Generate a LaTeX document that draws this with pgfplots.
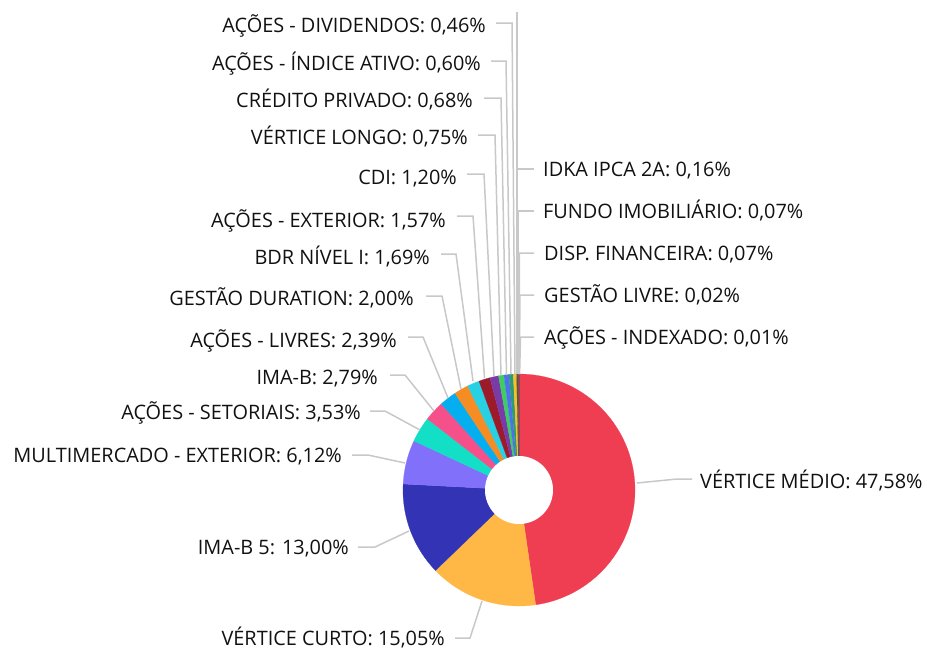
\documentclass[border=0pt]{standalone}
\usepackage{fontspec}
\setmainfont{Open Sans}
\usepackage{pgfplots}
\usepackage{pgfplotstable}
\pgfplotsset{compat=1.18}
\definecolor{c1}{HTML}{EF3D52}
\definecolor{c2}{HTML}{FFB845}
\definecolor{c3}{HTML}{3333B5}
\definecolor{c4}{HTML}{8070FA}
\definecolor{c5}{HTML}{12DFC5}
\definecolor{c6}{HTML}{F5508A}
\definecolor{c7}{HTML}{05AEEF}
\definecolor{c8}{HTML}{F68C24}
\definecolor{c9}{HTML}{27D0E3}
\definecolor{c10}{HTML}{9B1B2A}
\definecolor{c11}{HTML}{7A3AA8}
\definecolor{c12}{HTML}{3DCE62}
\definecolor{c13}{HTML}{5070F0}
\definecolor{c14}{HTML}{2E9A78}
\definecolor{c15}{HTML}{F4C12A}
\definecolor{c16}{HTML}{6E5030}
\definecolor{c17}{HTML}{555555}
\definecolor{c18}{HTML}{888888}
\definecolor{c19}{HTML}{444444}
\definecolor{c20}{HTML}{333333}
\definecolor{txt}{HTML}{111111}
\definecolor{lead}{HTML}{C8C8C8}
\pgfplotstableread{
val color
47.58 c1
15.05 c2
13.00 c3
6.12 c4
3.53 c5
2.79 c6
2.39 c7
2.00 c8
1.69 c9
1.57 c10
1.20 c11
0.75 c12
0.68 c13
0.60 c14
0.46 c15
0.16 c16
0.07 c17
0.07 c18
0.02 c19
0.01 c20
}\slicetable
\begin{document}
\begin{tikzpicture}[font=\fontsize{19.9}{24}\selectfont]
\useasboundingbox (0,0) rectangle (927pt,649pt);
\begin{axis}[width=927pt,height=649pt,scale only axis,
  xmin=0,xmax=927,ymin=0,ymax=649,y dir=reverse,hide axis,clip=false]
\pgfplotstablegetrowsof{\slicetable}
\pgfmathtruncatemacro\nrows{\pgfplotsretval-1}
\xdef\cum{0}
\xdef\total{0}
\pgfplotsforeachungrouped \i in {0,...,\nrows}{%
  \pgfplotstablegetelem{\i}{val}\of\slicetable
  \pgfmathsetmacro\tmpsum{\total+\pgfplotsretval}%
  \xdef\total{\tmpsum}%
}
\pgfplotsforeachungrouped \i in {0,...,\nrows}{%
  \pgfplotstablegetelem{\i}{val}\of\slicetable \let\sv\pgfplotsretval
  \pgfplotstablegetelem{\i}{color}\of\slicetable \let\sc\pgfplotsretval
  \pgfmathsetmacro\angA{\cum/\total*360}%
  \pgfmathsetmacro\angB{(\cum+\sv)/\total*360}%
  \pgfmathtruncatemacro\ns{max(4,\sv*3)}%
  \edef\doplot{\noexpand\addplot[fill=\sc,draw=\sc,line width=0.2pt,domain=\angA:\angB,samples=\ns,variable=\noexpand\t] ({519+116*sin(\noexpand\t)},{490-116*cos(\noexpand\t)}) -- (axis cs:519,490) -- cycle;}%
  \doplot
  \pgfmathsetmacro\tmpc{\cum+\sv}%
  \xdef\cum{\tmpc}%
}
\addplot[fill=white,draw=none,domain=0:360,samples=120,variable=\t] ({519+34*sin(t)},{490-34*cos(t)}) -- cycle;

% leader lines
\begin{scope}[lead,line width=1.5pt]
\draw (axis cs:637,483) -- (axis cs:677,479) -- (axis cs:692,479);
\draw (axis cs:482,601) -- (axis cs:470,638) -- (axis cs:455,638);
\draw (axis cs:409,531) -- (axis cs:375,547) -- (axis cs:358,547);
\draw (axis cs:405,463) -- (axis cs:368,455) -- (axis cs:352,455);
\draw (axis cs:420,430) -- (axis cs:385,411) -- (axis cs:370,411);
\draw (axis cs:434,411) -- (axis cs:405,375) -- (axis cs:390,375);
\draw (axis cs:448,398) -- (axis cs:423,337) -- (axis cs:408,337);
\draw (axis cs:461,389) -- (axis cs:442,296) -- (axis cs:426,296);
\draw (axis cs:473,381) -- (axis cs:456,254) -- (axis cs:441,254);
\draw (axis cs:484.5,378) -- (axis cs:473,216) -- (axis cs:457,216);
\draw (axis cs:494,376) -- (axis cs:484,174) -- (axis cs:467,174);
\draw (axis cs:501,375) -- (axis cs:495,135) -- (axis cs:478,135);
\draw (axis cs:506.5,375) -- (axis cs:501,98) -- (axis cs:484,98);
\draw (axis cs:511,374) -- (axis cs:506,61) -- (axis cs:491,61);
\draw (axis cs:515,374) -- (axis cs:512,23) -- (axis cs:496,23);
\draw (axis cs:517,374) -- (axis cs:517,12);
\draw (axis cs:517.5,374) -- (axis cs:517.5,169) -- (axis cs:534,169);
\draw (axis cs:518.2,374) -- (axis cs:518.2,211) -- (axis cs:534,211);
\draw (axis cs:518.8,374) -- (axis cs:519.5,253) -- (axis cs:534,253);
\draw (axis cs:519.2,374) -- (axis cs:520,295) -- (axis cs:534,295);
\draw (axis cs:519.6,374) -- (axis cs:520.5,337) -- (axis cs:534,337);
\end{scope}

% labels
\begin{scope}[every node/.style={inner sep=0pt,text=txt}]
\node[anchor=base west] at (axis cs:700,488) {VÉRTICE MÉDIO: 47,58\%};
\node[anchor=base east] at (axis cs:445,645) {VÉRTICE CURTO: 15,05\%};
\node[anchor=base east] at (axis cs:349,554) {IMA-B 5: 13,00\%};
\node[anchor=base east] at (axis cs:342,462) {MULTIMERCADO - EXTERIOR: 6,12\%};
\node[anchor=base east] at (axis cs:361,419) {AÇÕES - SETORIAIS: 3,53\%};
\node[anchor=base east] at (axis cs:378,384) {IMA-B: 2,79\%};
\node[anchor=base east] at (axis cs:397,347) {AÇÕES - LIVRES: 2,39\%};
\node[anchor=base east] at (axis cs:414,305) {GESTÃO DURATION: 2,00\%};
\node[anchor=base east] at (axis cs:430,264) {BDR NÍVEL I: 1,69\%};
\node[anchor=base east] at (axis cs:446,227) {AÇÕES - EXTERIOR: 1,57\%};
\node[anchor=base east] at (axis cs:457,184) {CDI: 1,20\%};
\node[anchor=base east] at (axis cs:468,144) {VÉRTICE LONGO: 0,75\%};
\node[anchor=base east] at (axis cs:473,107) {CRÉDITO PRIVADO: 0,68\%};
\node[anchor=base east] at (axis cs:481,70) {AÇÕES - ÍNDICE ATIVO: 0,60\%};
\node[anchor=base east] at (axis cs:486,32) {AÇÕES - DIVIDENDOS: 0,46\%};
\node[anchor=base west] at (axis cs:543,176) {IDKA IPCA 2A: 0,16\%};
\node[anchor=base west] at (axis cs:543,218) {FUNDO IMOBILIÁRIO: 0,07\%};
\node[anchor=base west] at (axis cs:544,260) {DISP. FINANCEIRA: 0,07\%};
\node[anchor=base west] at (axis cs:544,302) {GESTÃO LIVRE: 0,02\%};
\node[anchor=base west] at (axis cs:544,344) {AÇÕES - INDEXADO: 0,01\%};
\end{scope}
\end{axis}
\end{tikzpicture}
\end{document}
